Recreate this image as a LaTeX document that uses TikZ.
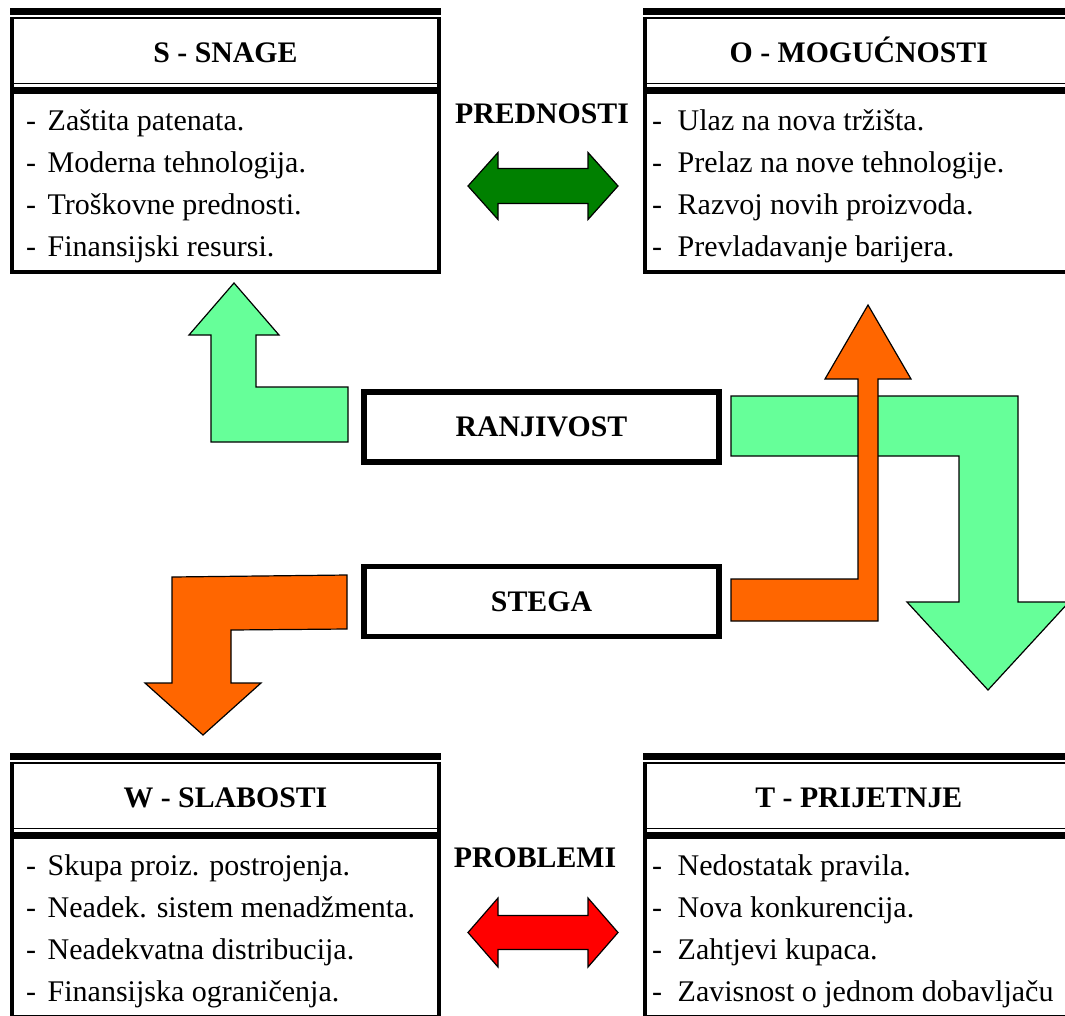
\documentclass[tikz,border=0pt]{standalone}
\usepackage{fontspec}
\setmainfont{Liberation Serif}
\definecolor{lightgreen}{HTML}{66FF99}
\definecolor{orangefill}{HTML}{FF6600}
\definecolor{darkgreen}{HTML}{008000}
\definecolor{redfill}{HTML}{FF0000}

% frame of one SWOT cell: thick-thin top rule, side borders,
% double rule under the heading, bottom border
\newcommand\swotframe{%
  \fill (10,8.3) rectangle (441,15);
  \fill (10,17.3) rectangle (441,19);
  \fill (10,17.3) rectangle (14,274);
  \fill (437,17.3) rectangle (441,274);
  \fill (10,82.7) rectangle (441,84);
  \fill (10,87.3) rectangle (441,94);
  \fill (10,270) rectangle (441,274);
}

\begin{document}
\begin{tikzpicture}[x=1pt,y=-1pt,
  txt/.style={inner sep=0pt, font=\fontsize{30}{36}\selectfont},
  head/.style={inner sep=0pt, font=\fontsize{29.8}{36}\selectfont\bfseries, anchor=base},
  item/.style={txt, anchor=base west},
  blockarrow/.style={draw=black, line width=1.2pt, line join=miter},
  midbox/.style={draw=black, line width=5.6pt, minimum width=355pt, minimum height=70pt,
                 inner sep=0pt, font=\fontsize{29.8}{36}\selectfont\bfseries}
]
\useasboundingbox (0,0) rectangle (1065,1015);

% ---- the four cells
\begin{scope}\swotframe\end{scope}
\begin{scope}[shift={(633.3,0)}]\swotframe\end{scope}
\begin{scope}[shift={(0,745)}]\swotframe\end{scope}
\begin{scope}[shift={(633.3,745)}]\swotframe\end{scope}

% S - strengths
\node[head] (Shead) at (225.5,62) {S - SNAGE};
\foreach \t [count=\i] in {Zaštita patenata.,Moderna tehnologija.,Troškovne prednosti.,Finansijski resursi.}{
  \node[item] (Sd\i) at (26,{130.5+42*(\i-1)}) {-};
  \node[item] (S\i) at (47.5,{130.5+42*(\i-1)}) {\t};
}

% O - opportunities
\node[head] (Ohead) at (858.8,62) {O - MOGUĆNOSTI};
\foreach \t [count=\i] in {Ulaz na nova tržišta.,Prelaz na nove tehnologije.,Razvoj novih proizvoda.,Prevladavanje barijera.}{
  \node[item] (Od\i) at (652,{130.5+42*(\i-1)}) {-};
  \node[item] (O\i) at (677.5,{130.5+42*(\i-1)}) {\t};
}

% W - weaknesses
\node[head] (Whead) at (225.5,807) {W - SLABOSTI};
\foreach \t [count=\i] in {Skupa proiz. postrojenja.,Neadek. sistem menadžmenta.,Neadekvatna distribucija.,Finansijska ograničenja.}{
  \node[item] (Wd\i) at (26,{875.5+42*(\i-1)}) {-};
  \node[item] (W\i) at (47.5,{875.5+42*(\i-1)}) {\t};
}

% T - threats
\node[head] (Thead) at (858.8,807) {T - PRIJETNJE};
\foreach \t [count=\i] in {Nedostatak pravila.,Nova konkurencija.,Zahtjevi kupaca.,Zavisnost o jednom dobavljaču}{
  \node[item] (Td\i) at (652,{875.5+42*(\i-1)}) {-};
  \node[item] (T\i) at (677.5,{875.5+42*(\i-1)}) {\t};
}

% ---- labels between the cells and two-way arrows
\node[head] (pred) at (542,123) {PREDNOSTI};
\node[head] (prob) at (535,867) {PROBLEMI};

\draw[blockarrow, fill=darkgreen]
  (468,186) -- (498,152.5) -- (498,168.5) -- (588,168.5) -- (588,152.5) -- (618,186)
  -- (588,219.5) -- (588,203.5) -- (498,203.5) -- (498,219.5) -- cycle;
\draw[blockarrow, fill=redfill]
  (468,932.5) -- (498,898) -- (498,915.5) -- (588,915.5) -- (588,898) -- (618,932.5)
  -- (588,967) -- (588,949.5) -- (498,949.5) -- (498,967) -- cycle;

% ---- middle boxes
\node[midbox] (ranj) at (541.5,427) {RANJIVOST};
\node[midbox] (steg) at (541.5,601.5) {STEGA};

% ---- bent block arrows
\draw[blockarrow, fill=lightgreen]
  (211,442) -- (211,335) -- (189,335) -- (234,283) -- (279,335) -- (256,335)
  -- (256,387) -- (348,387) -- (348,442) -- cycle;
\draw[blockarrow, fill=lightgreen]
  (731,396) -- (1018,396) -- (1018,602) -- (1069,602) -- (988,690) -- (907,602)
  -- (959,602) -- (959,456) -- (731,456) -- cycle;
\draw[blockarrow, fill=orangefill]
  (731,579) -- (858,579) -- (858,379) -- (825,379) -- (868,305) -- (911,379)
  -- (878,379) -- (878,621) -- (731,621) -- cycle;
\draw[blockarrow, fill=orangefill]
  (347,575) -- (172,577) -- (172,683) -- (145,683) -- (203,735) -- (261,683)
  -- (231,683) -- (231,630) -- (347,629) -- cycle;
\end{tikzpicture}
\end{document}
